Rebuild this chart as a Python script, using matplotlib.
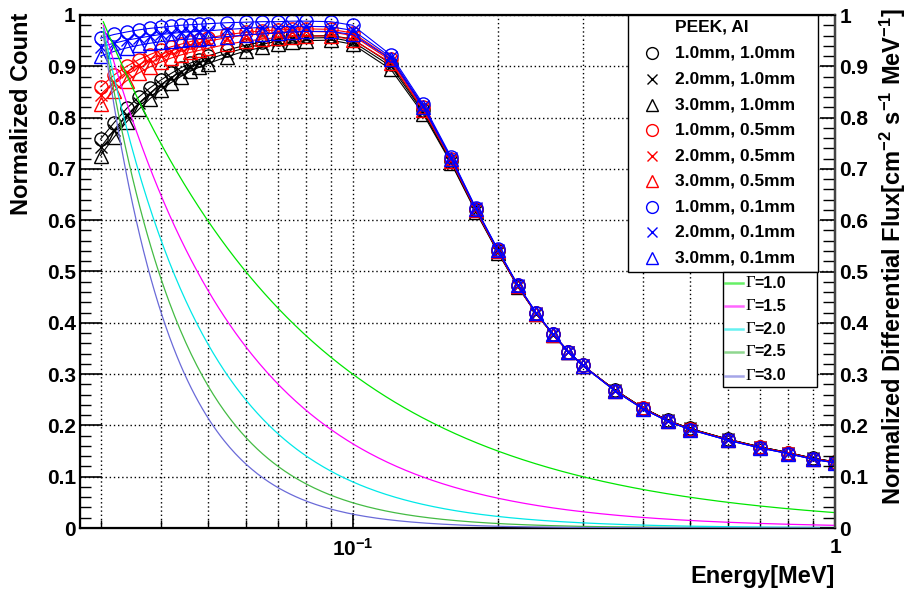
import numpy as np
import matplotlib
matplotlib.use('Agg')
import matplotlib.pyplot as plt
from matplotlib.ticker import FixedLocator, MultipleLocator, FuncFormatter, NullFormatter
from matplotlib.lines import Line2D
from matplotlib.patches import Rectangle

plt.rcParams['font.family'] = ['Liberation Sans', 'DejaVu Sans']
plt.rcParams['font.weight'] = 'bold'
plt.rcParams['mathtext.fontset'] = 'custom'
plt.rcParams['mathtext.rm'] = 'Liberation Sans:bold'
plt.rcParams['mathtext.bf'] = 'Liberation Sans:bold'
plt.rcParams['mathtext.default'] = 'bf'
plt.rcParams['axes.unicode_minus'] = False

# 能量点 (MeV)
energy = [0.030, 0.032, 0.034, 0.036, 0.038, 0.040, 0.042, 0.044, 0.046, 0.048, 0.050,
          0.055, 0.060, 0.065, 0.070, 0.075, 0.080, 0.090, 0.100,
          0.12, 0.14, 0.16, 0.18, 0.20, 0.22, 0.24, 0.26, 0.28, 0.30,
          0.35, 0.40, 0.45, 0.5, 0.6, 0.7, 0.8, 0.9, 1.0]

# 归一化计数: PEEK厚度, Al厚度
peek10_al10 = [0.758, 0.790, 0.818, 0.840, 0.858, 0.873, 0.886, 0.897, 0.906, 0.913, 0.920,
               0.932, 0.941, 0.948, 0.953, 0.957, 0.959, 0.960, 0.953,
               0.905, 0.814, 0.715, 0.619, 0.539, 0.471, 0.419, 0.378, 0.344, 0.317,
               0.269, 0.234, 0.210, 0.194, 0.173, 0.158, 0.147, 0.136, 0.129]
peek20_al10 = [0.742, 0.776, 0.805, 0.828, 0.848, 0.864, 0.878, 0.889, 0.898, 0.906, 0.913,
               0.926, 0.936, 0.943, 0.949, 0.953, 0.955, 0.956, 0.948,
               0.900, 0.811, 0.713, 0.618, 0.538, 0.471, 0.418, 0.377, 0.344, 0.317,
               0.269, 0.234, 0.210, 0.194, 0.173, 0.158, 0.147, 0.136, 0.129]
peek30_al10 = [0.726, 0.762, 0.792, 0.816, 0.837, 0.854, 0.868, 0.880, 0.890, 0.898, 0.905,
               0.919, 0.930, 0.937, 0.943, 0.947, 0.950, 0.951, 0.943,
               0.894, 0.807, 0.711, 0.616, 0.537, 0.470, 0.418, 0.377, 0.343, 0.316,
               0.269, 0.234, 0.210, 0.194, 0.173, 0.158, 0.147, 0.136, 0.129]
peek10_al05 = [0.860, 0.883, 0.900, 0.913, 0.923, 0.931, 0.938, 0.943, 0.948, 0.952, 0.955,
               0.962, 0.966, 0.969, 0.971, 0.972, 0.973, 0.972, 0.965,
               0.915, 0.821, 0.720, 0.622, 0.541, 0.473, 0.419, 0.378, 0.344, 0.317,
               0.268, 0.233, 0.209, 0.193, 0.172, 0.157, 0.146, 0.135, 0.128]
peek20_al05 = [0.845, 0.870, 0.889, 0.903, 0.914, 0.923, 0.930, 0.936, 0.941, 0.945, 0.949,
               0.956, 0.961, 0.964, 0.966, 0.967, 0.968, 0.967, 0.960,
               0.911, 0.818, 0.718, 0.621, 0.540, 0.472, 0.419, 0.378, 0.344, 0.317,
               0.268, 0.233, 0.209, 0.193, 0.172, 0.157, 0.146, 0.135, 0.128]
peek30_al05 = [0.826, 0.852, 0.872, 0.887, 0.899, 0.908, 0.916, 0.922, 0.927, 0.931, 0.935,
               0.943, 0.949, 0.953, 0.956, 0.958, 0.959, 0.959, 0.952,
               0.907, 0.815, 0.716, 0.619, 0.539, 0.471, 0.418, 0.377, 0.343, 0.316,
               0.268, 0.233, 0.209, 0.193, 0.172, 0.157, 0.146, 0.135, 0.128]
peek10_al01 = [0.955, 0.962, 0.967, 0.971, 0.974, 0.976, 0.978, 0.980, 0.981, 0.982, 0.983,
               0.985, 0.986, 0.987, 0.987, 0.988, 0.988, 0.987, 0.980,
               0.922, 0.826, 0.723, 0.624, 0.543, 0.474, 0.420, 0.379, 0.344, 0.317,
               0.267, 0.232, 0.208, 0.192, 0.171, 0.156, 0.145, 0.134, 0.127]
peek20_al01 = [0.938, 0.945, 0.951, 0.955, 0.959, 0.962, 0.964, 0.966, 0.967, 0.968, 0.969,
               0.972, 0.974, 0.976, 0.977, 0.978, 0.978, 0.977, 0.970,
               0.918, 0.823, 0.721, 0.623, 0.542, 0.473, 0.420, 0.378, 0.344, 0.317,
               0.267, 0.232, 0.208, 0.192, 0.171, 0.156, 0.145, 0.134, 0.127]
peek30_al01 = [0.920, 0.929, 0.936, 0.941, 0.945, 0.948, 0.950, 0.952, 0.953, 0.954, 0.955,
               0.958, 0.961, 0.963, 0.965, 0.967, 0.968, 0.968, 0.962,
               0.914, 0.820, 0.719, 0.622, 0.541, 0.473, 0.419, 0.378, 0.344, 0.316,
               0.267, 0.232, 0.208, 0.192, 0.171, 0.156, 0.145, 0.134, 0.127]

series = [peek10_al10, peek20_al10, peek30_al10,
          peek10_al05, peek20_al05, peek30_al05,
          peek10_al01, peek20_al01, peek30_al01]
labels = ['1.0mm, 1.0mm', '2.0mm, 1.0mm', '3.0mm, 1.0mm',
          '1.0mm, 0.5mm', '2.0mm, 0.5mm', '3.0mm, 0.5mm',
          '1.0mm, 0.1mm', '2.0mm, 0.1mm', '3.0mm, 0.1mm']
colors = ['black'] * 3 + ['#ff0000'] * 3 + ['#0000ff'] * 3
markers = ['o', 'x', '^'] * 3
msizes = {'o': 9.5, 'x': 8, '^': 10}

# 幂律谱指数
gammas = [1.0, 1.5, 2.0, 2.5, 3.0]
gamma_colors = ['#00e600', '#ff00ff', '#00e8e8', '#44bb44', '#6a6ad8']
e_norm = 0.03

W, H = 911, 593
fig = plt.figure(figsize=(W / 100, H / 100), dpi=100)
ax = fig.add_axes([80 / W, 1 - 528 / H, 755 / W, 513 / H])

ax.set_xscale('log')
ax.set_xlim(0.0272, 1.0)
ax.set_ylim(0, 1)

for y, c, m, lab in zip(series, colors, markers, labels):
    ax.plot(energy, y, color=c, lw=0.8, marker=m, ms=msizes[m], mfc='none',
            mec=c, mew=1.0, zorder=3)

e_fine = np.geomspace(0.0304, 1.0, 400)
for g, c in zip(gammas, gamma_colors):
    ax.plot(e_fine, (e_norm / e_fine) ** g, color=c, lw=0.9, zorder=4)

# 坐标轴
ax.xaxis.set_major_locator(FixedLocator([0.1, 1.0]))
ax.xaxis.set_minor_locator(FixedLocator([0.03, 0.04, 0.05, 0.06, 0.07, 0.08, 0.09,
                                         0.2, 0.3, 0.4, 0.5, 0.6, 0.7, 0.8, 0.9]))
ax.xaxis.set_major_formatter(FuncFormatter(lambda v, p: r'$10^{-1}$' if v < 0.5 else '1'))
ax.xaxis.set_minor_formatter(NullFormatter())
ax.yaxis.set_major_locator(MultipleLocator(0.1))
ax.yaxis.set_minor_locator(MultipleLocator(0.02))
ax.yaxis.set_major_formatter(FuncFormatter(lambda v, p: '%g' % round(v, 2)))

ax.tick_params(axis='x', which='major', direction='in', length=11, width=1.2,
               labelsize=15, pad=7, top=False)
ax.tick_params(axis='x', which='minor', direction='in', length=5.5, width=1.0, top=False)
ax.tick_params(axis='y', which='major', direction='in', length=16, width=1.2,
               labelsize=15, pad=3, right=False)
ax.tick_params(axis='y', which='minor', direction='in', length=8, width=1.0, right=False)

ax.grid(True, which='both', axis='x', color='black', lw=1.0, ls=(0, (1, 2)), zorder=1)
ax.grid(True, which='major', axis='y', color='black', lw=1.0, ls=(0, (1, 2)), zorder=1)
ax.set_axisbelow(True)
for s in ax.spines.values():
    s.set_linewidth(1.6)

ax2 = ax.twinx()
ax2.set_ylim(0, 1)
ax2.yaxis.set_major_locator(MultipleLocator(0.1))
ax2.yaxis.set_minor_locator(MultipleLocator(0.02))
ax2.yaxis.set_major_formatter(FuncFormatter(lambda v, p: '%g' % round(v, 2)))
ax2.tick_params(axis='y', which='major', direction='in', length=11, width=1.2,
                labelsize=15, pad=3)
ax2.tick_params(axis='y', which='minor', direction='in', length=9, width=1.0)
ax2.spines['right'].set_linewidth(1.6)
ax2.spines['right'].set_color('#444444')

# 轴标题
fig.text(22 / W, 1 - 13 / H, 'Normalized Count', rotation=90, ha='center', va='top',
         fontsize=17, fontweight='bold')
fig.text(893 / W, 1 - 8 / H,
         r'Normalized Differential Flux[cm$^{-2}$ s$^{-1}$ MeV$^{-1}$]',
         rotation=90, ha='center', va='top', fontsize=17, fontweight='bold')
fig.text(835 / W, 1 - 577 / H, 'Energy[MeV]', ha='right', va='center',
         fontsize=17, fontweight='bold')


def px(x, y):
    return x / W, 1 - y / H


# 图例1: 样品厚度
fig.add_artist(Rectangle(px(628, 272), 190 / W, 257 / H, transform=fig.transFigure,
                         facecolor='white', edgecolor='black', lw=1.0, zorder=10))
fig.text(*px(675, 27), 'PEEK, Al', ha='left', va='center', fontsize=12.5,
         fontweight='bold', zorder=11)
rows = [53, 79, 105, 130, 156, 181, 207, 232, 258]
for r, c, m, lab in zip(rows, colors, markers, labels):
    fig.add_artist(Line2D([652 / W], [1 - r / H], transform=fig.transFigure, ls='none',
                          marker=m, ms=msizes[m] - 1, mfc='none', mec=c, mew=1.0,
                          zorder=11))
    fig.text(*px(675, r), lab, ha='left', va='center', fontsize=12.5,
             fontweight='bold', zorder=11)

# 图例2: 幂律谱
fig.add_artist(Rectangle(px(723, 387), 94 / W, 115 / H, transform=fig.transFigure,
                         facecolor='white', edgecolor='black', lw=1.0, zorder=10))
rows2 = [283, 306, 329, 352, 376]
for r, g, c in zip(rows2, gammas, gamma_colors):
    fig.add_artist(Line2D([725 / W, 743 / W], [1 - r / H, 1 - r / H],
                          transform=fig.transFigure, color=c, lw=1.8, alpha=0.6,
                          zorder=11))
    fig.text(*px(746, r), 'Γ', ha='left', va='center', fontsize=12,
             family='Liberation Serif', fontweight='normal', zorder=11)
    fig.text(*px(754, r), '=%.1f' % g, ha='left', va='center', fontsize=11.5,
             fontweight='bold', zorder=11)

fig.savefig('out.png', dpi=100)
